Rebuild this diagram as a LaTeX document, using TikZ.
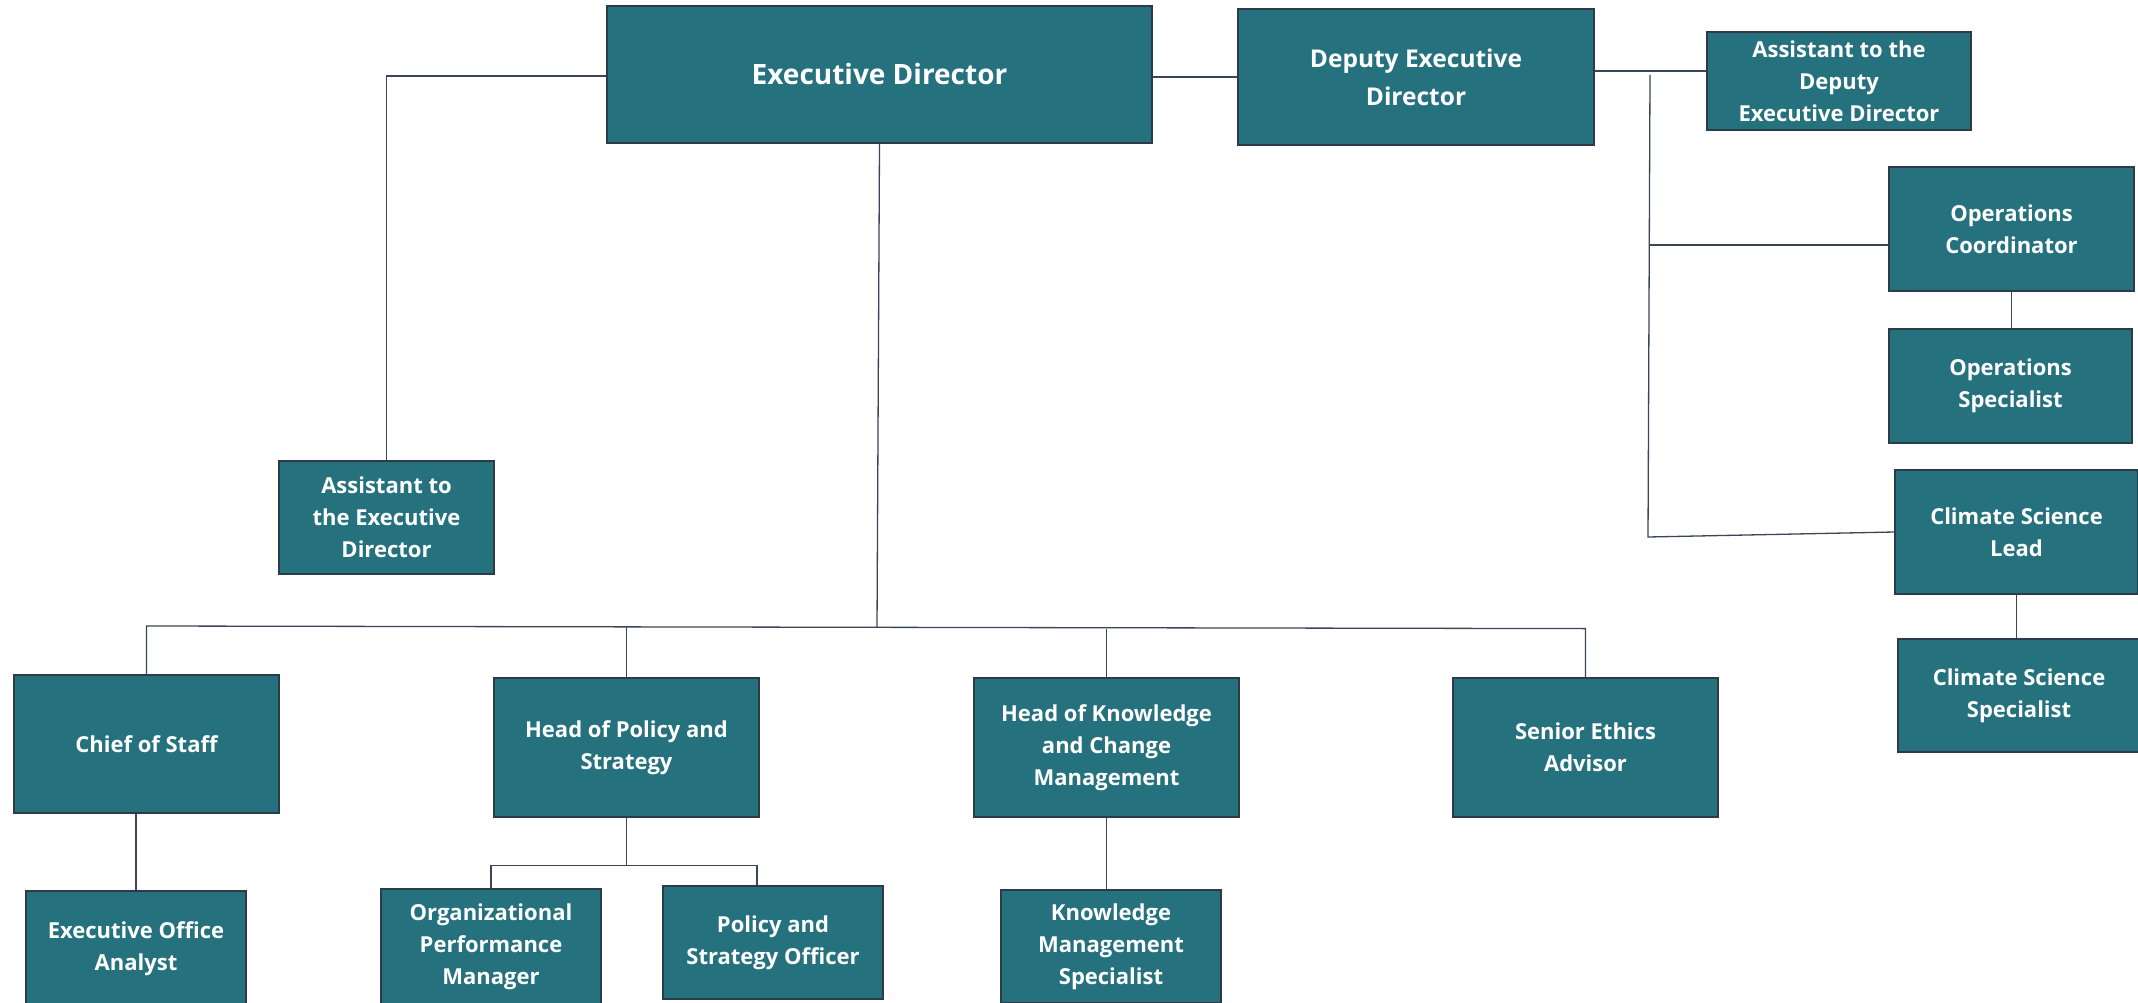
\documentclass[tikz,border=0pt]{standalone}
\usepackage{fontspec}
\setmainfont{Open Sans}
\definecolor{boxfill}{RGB}{37,114,126}
\definecolor{boxline}{RGB}{45,58,74}
\definecolor{conn}{RGB}{58,70,87}
\tikzset{
  box/.style={draw=boxline, line width=1.5pt, fill=boxfill, text=white, inner sep=0pt,
    align=center, font=\fontsize{22}{32}\selectfont\bfseries},
  bigbox/.style={box, font=\fontsize{28}{34}\selectfont\bfseries},
  link/.style={draw=conn, line width=1.3pt}
}
\begin{document}
\begin{tikzpicture}[x=1pt,y=1pt]
\useasboundingbox (0,0) rectangle (2138,-1003);
\clip (0,0) rectangle (2138,-1003);
\fill[white] (0,0) rectangle (2138,-1003);
% nodes
\node[bigbox, minimum width=545pt, minimum height=137pt] (ed) at (879.5,-74.5) {Executive Director};
\node[box, minimum width=356pt, minimum height=136pt, font=\fontsize{24.5}{38}\selectfont\bfseries] (ded) at (1416,-77) {Deputy Executive\\Director};
\node[box, minimum width=264pt, minimum height=98pt] (aded) at (1839,-81) {Assistant to the\\Deputy\\Executive Director};
\node[box, minimum width=245pt, minimum height=124pt] (oc) at (2011.5,-229) {Operations\\Coordinator};
\node[box, minimum width=243pt, minimum height=114pt] (os) at (2010.5,-386) {Operations\\Specialist};
\node[box, minimum width=243pt, minimum height=124pt] (csl) at (2016.5,-532) {Climate Science\\Lead};
\node[box, minimum width=242pt, minimum height=113pt] (css) at (2019,-695.5) {Climate Science\\Specialist};
\node[box, minimum width=215pt, minimum height=113pt] (aed) at (386.5,-517.5) {Assistant to\\the Executive\\Director};
\node[box, minimum width=265pt, minimum height=138pt] (cos) at (146.5,-744) {Chief of Staff};
\node[box, minimum width=265pt, minimum height=139pt] (hop) at (626.5,-747.5) {Head of Policy and\\Strategy};
\node[box, minimum width=265pt, minimum height=139pt] (hok) at (1106.5,-747.5) {Head of Knowledge\\and Change\\Management};
\node[box, minimum width=265pt, minimum height=139pt] (sea) at (1585.5,-747.5) {Senior Ethics\\Advisor};
\node[box, minimum width=220pt, minimum height=115pt] (eoa) at (136,-948.5) {Executive Office\\Analyst};
\node[box, minimum width=220pt, minimum height=115pt] (opm) at (491,-946.5) {Organizational\\Performance\\Manager};
\node[box, minimum width=220pt, minimum height=113pt] (pso) at (773,-942.5) {Policy and\\Strategy Officer};
\node[box, minimum width=220pt, minimum height=113pt] (kms) at (1111,-946.5) {Knowledge\\Management\\Specialist};
% junction coordinates
\coordinate (tTop) at (1650,-75);
\coordinate (tBend) at (1648,-537);
\coordinate (busC) at (877,-627);
\coordinate (busL) at (146.5,-626);
\coordinate (busR) at (1585.5,-628.6);
\coordinate (pj) at (757,-865.3);
% connectors
\draw[link] ([yshift=-1.5pt]ed.west) -| (aed.north);
\draw[link] (ded.west -| ed.east) -- (ded.west);
\draw[link] ([yshift=6pt]ded.east) -- ([yshift=6pt]ded.east -| aded.west);
\draw[link] (tTop) -- (tBend) -- (csl.west);
\draw[link] ([yshift=-16pt]oc.west -| tTop) -- ([yshift=-16pt]oc.west);
\draw[link] (oc.south) -- (oc.south |- os.north);
\draw[link] (csl.south) -- (csl.south |- css.north);
\draw[link] (ed.south) -- (busC);
\draw[link] (cos.north) -- (busL) -- (busR) -- (sea.north);
\draw[link] (hop.north) -- (hop.north |- busC);
\draw[link] (hok.north) -- (hok.north |- busR);
\draw[link] (eoa.north) -- (eoa.north |- cos.south);
\draw[link] (hop.south) -- (hop.south |- pj);
\draw[link] (opm.north) -- (opm.north |- pj) -- (pj) -- (pj |- pso.north);
\draw[link] (hok.south) -- (hok.south |- kms.north);
\end{tikzpicture}
\end{document}
